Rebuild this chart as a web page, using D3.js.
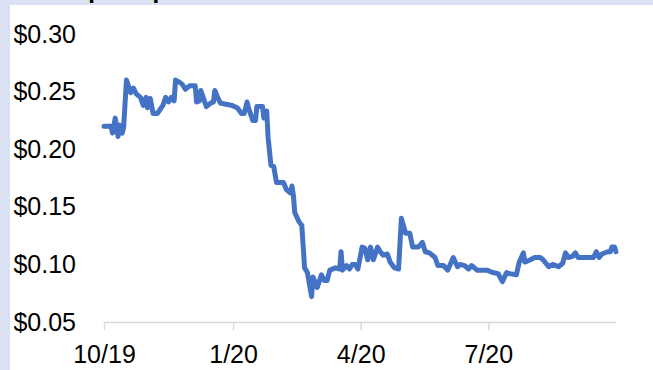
<!DOCTYPE html>
<html>
<head>
<meta charset="utf-8">
<script src="https://cdn.jsdelivr.net/npm/d3@7"></script>
<style>
  html, body { margin: 0; padding: 0; background: #D9E1F2; }
  svg { display: block; }
</style>
</head>
<body>
<svg id="chart" width="653" height="370"></svg>
<script>
// share price, daily closes
var dates = [
  "2019-10-01","2019-10-06","2019-10-07","2019-10-09","2019-10-11","2019-10-12","2019-10-14","2019-10-15",
  "2019-10-17","2019-10-20","2019-10-22","2019-10-24","2019-10-27","2019-10-29","2019-10-31","2019-11-01",
  "2019-11-03","2019-11-05","2019-11-08","2019-11-12","2019-11-14","2019-11-16","2019-11-18","2019-11-20",
  "2019-11-21","2019-11-24","2019-11-26","2019-11-28","2019-12-01","2019-12-05","2019-12-06","2019-12-08",
  "2019-12-09","2019-12-13","2019-12-16","2019-12-18","2019-12-19","2019-12-21","2019-12-23","2019-12-27",
  "2019-12-31","2020-01-04","2020-01-07","2020-01-09","2020-01-11","2020-01-12","2020-01-15","2020-01-17",
  "2020-01-18","2020-01-22","2020-01-23","2020-01-25","2020-01-26","2020-01-28","2020-01-30","2020-02-01",
  "2020-02-06","2020-02-08","2020-02-11","2020-02-12","2020-02-13","2020-02-14","2020-02-17","2020-02-19",
  "2020-02-21","2020-02-23","2020-02-24","2020-02-26","2020-02-27","2020-03-01","2020-03-04","2020-03-06",
  "2020-03-08","2020-03-10","2020-03-14","2020-03-17","2020-03-18","2020-03-19","2020-03-22","2020-03-24",
  "2020-03-26","2020-03-28","2020-03-30","2020-04-02","2020-04-04","2020-04-06","2020-04-08","2020-04-10",
  "2020-04-13","2020-04-15","2020-04-17","2020-04-20","2020-04-22","2020-04-25","2020-04-28","2020-04-30",
  "2020-05-03","2020-05-06","2020-05-08","2020-05-12","2020-05-15","2020-05-17","2020-05-20","2020-05-24",
  "2020-05-26","2020-05-30","2020-06-02","2020-06-06","2020-06-09","2020-06-11","2020-06-14","2020-06-17",
  "2020-06-19","2020-06-23","2020-06-26","2020-06-30","2020-07-04","2020-07-08","2020-07-11","2020-07-14",
  "2020-07-16","2020-07-21","2020-07-23","2020-07-26","2020-07-27","2020-07-31","2020-08-03","2020-08-07",
  "2020-08-09","2020-08-13","2020-08-16","2020-08-20","2020-08-23","2020-08-25","2020-08-27","2020-08-30",
  "2020-09-01","2020-09-03","2020-09-06","2020-09-11","2020-09-14","2020-09-16","2020-09-18","2020-09-20",
  "2020-09-24","2020-09-26","2020-09-27","2020-09-29","2020-09-30"
];
var prices = [
  0.220,0.220,0.214,0.227,0.211,0.221,0.214,0.219,
  0.260,0.249,0.253,0.248,0.245,0.238,0.245,0.236,
  0.244,0.231,0.231,0.238,0.245,0.241,0.245,0.242,
  0.260,0.258,0.256,0.252,0.255,0.255,0.241,0.242,
  0.251,0.237,0.240,0.241,0.251,0.245,0.240,0.239,
  0.238,0.236,0.231,0.231,0.241,0.236,0.225,0.225,
  0.237,0.237,0.227,0.233,0.210,0.186,0.185,0.171,
  0.171,0.165,0.162,0.168,0.160,0.145,0.137,0.134,
  0.097,0.093,0.086,0.072,0.089,0.080,0.091,0.086,
  0.086,0.095,0.097,0.096,0.111,0.095,0.099,0.096,
  0.100,0.100,0.096,0.115,0.114,0.104,0.115,0.104,
  0.115,0.111,0.108,0.109,0.102,0.097,0.096,0.140,
  0.127,0.127,0.115,0.115,0.119,0.111,0.110,0.106,
  0.099,0.099,0.095,0.106,0.098,0.100,0.099,0.096,
  0.099,0.095,0.095,0.095,0.093,0.092,0.085,0.093,
  0.092,0.091,0.102,0.110,0.102,0.104,0.106,0.106,
  0.104,0.098,0.100,0.098,0.101,0.110,0.106,0.107,
  0.110,0.106,0.106,0.106,0.106,0.111,0.106,0.109,
  0.111,0.111,0.115,0.115,0.111
];
var yTicks = [0.05, 0.10, 0.15, 0.20, 0.25, 0.30];
var xTicks = ["2019-10-01", "2020-01-01", "2020-04-01", "2020-07-01"];
var title = "Share price performance";

var parse = d3.timeParse("%Y-%m-%d");
var data = dates.map(function(d, i) { return { date: parse(d), price: prices[i] }; });

var svg = d3.select("#chart");

// white panel
svg.append("rect")
    .attr("x", 10).attr("y", 5)
    .attr("width", 643).attr("height", 365)
    .attr("fill", "#ffffff");

// title, mostly above the frame (the reference crops it too)
svg.append("text")
    .attr("x", 15).attr("y", -2)
    .attr("font-family", "Liberation Sans, Arial, sans-serif")
    .attr("font-size", 24).attr("font-weight", "bold")
    .attr("fill", "#000")
    .text(title);

var x = d3.scaleTime()
    .domain([parse("2019-10-01"), parse("2020-09-30")])
    .range([104, 616]);

var y = d3.scaleLinear()
    .domain([0.05, 0.30])
    .range([322, 34]);

// x axis
var xAxis = svg.append("g")
    .attr("transform", "translate(0,322)")
    .call(d3.axisBottom(x)
        .tickValues(xTicks.map(parse))
        .tickFormat(d3.timeFormat("%-m/%y"))
        .tickSize(8)
        .tickSizeOuter(0)
        .tickPadding(15));
xAxis.select(".domain").attr("stroke", "#D9D9D9").attr("stroke-width", 1.5);
xAxis.selectAll(".tick line").attr("stroke", "#D9D9D9").attr("stroke-width", 1.5);
xAxis.selectAll("text")
    .attr("font-family", "Liberation Sans, Arial, sans-serif")
    .attr("font-size", 25).attr("fill", "#000");

// y axis, labels only
var yAxis = svg.append("g")
    .attr("transform", "translate(76,0)")
    .call(d3.axisLeft(y)
        .tickValues(yTicks)
        .tickFormat(d3.format("$.2f"))
        .tickSize(0)
        .tickPadding(0));
yAxis.select(".domain").remove();
yAxis.selectAll("text")
    .attr("font-family", "Liberation Sans, Arial, sans-serif")
    .attr("font-size", 25).attr("fill", "#000");

var line = d3.line()
    .x(function(d) { return x(d.date); })
    .y(function(d) { return y(d.price); });

svg.append("path")
    .datum(data)
    .attr("d", line)
    .attr("fill", "none")
    .attr("stroke", "#4472C4")
    .attr("stroke-width", 5)
    .attr("stroke-linejoin", "round")
    .attr("stroke-linecap", "round");
</script>
</body>
</html>
